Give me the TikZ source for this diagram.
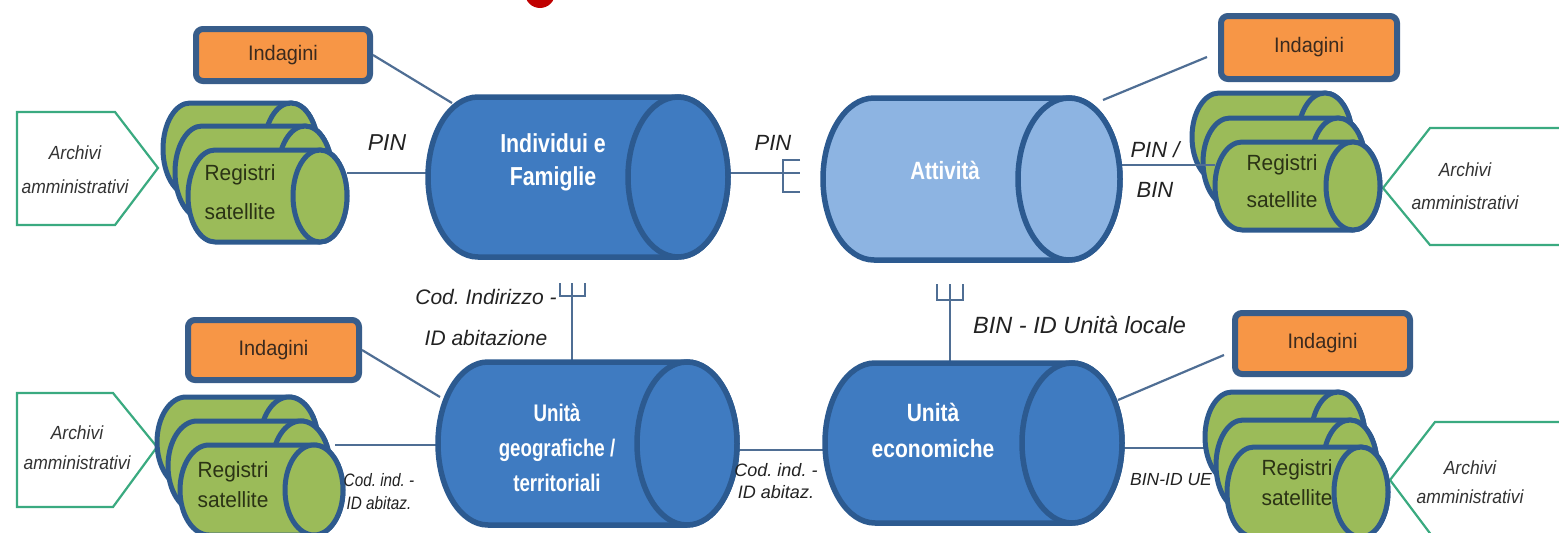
\documentclass[tikz,border=0pt]{standalone}
\usepackage{fontspec}
\setmainfont{Liberation Sans}
\newfontfamily\labf{Liberation Sans}
\newfontfamily\labnf[FakeStretch=0.85]{Liberation Sans}
\newfontfamily\arcf[FakeStretch=0.92]{Liberation Sans}
\newfontfamily\regf[FakeStretch=0.95]{Liberation Sans}
\newfontfamily\cylfa[FakeStretch=0.82]{Liberation Sans}
\newfontfamily\cylfb[FakeStretch=0.78]{Liberation Sans}
\newfontfamily\cylfc[FakeStretch=0.84]{Liberation Sans}
\definecolor{cylblue}{HTML}{3F7BC1}
\definecolor{cylline}{HTML}{2C5A90}
\definecolor{attfill}{HTML}{8DB4E2}
\definecolor{regfill}{HTML}{9BBB59}
\definecolor{regline}{HTML}{2E5A8E}
\definecolor{regtextc}{HTML}{2B3315}
\definecolor{indfill}{HTML}{F79646}
\definecolor{indline}{HTML}{385D8A}
\definecolor{indtextc}{HTML}{3B2A1E}
\definecolor{arcline}{HTML}{3AAA80}
\definecolor{arctextc}{HTML}{333333}
\definecolor{conline}{HTML}{4F6E94}
\definecolor{labtextc}{HTML}{222222}
\definecolor{redmark}{HTML}{C00000}
\newcommand\hcyl[6]{%
  \pgfmathsetmacro\cyL{#1}\pgfmathsetmacro\cyT{#2}%
  \pgfmathsetmacro\cyR{#3}\pgfmathsetmacro\cyB{#4}%
  \pgfmathsetmacro\cyX{#5}%
  \pgfmathsetmacro\cyM{(\cyT+\cyB)/2}\pgfmathsetmacro\cyY{(\cyB-\cyT)/2}%
  \draw[#6] ({\cyL+\cyX},\cyT) -- ({\cyR-\cyX},\cyT)
     arc[start angle=90,end angle=-90,x radius=\cyX pt,y radius=\cyY pt]
     -- ({\cyL+\cyX},\cyB)
     arc[start angle=270,end angle=90,x radius=\cyX pt,y radius=\cyY pt] -- cycle;
  \draw[#6] ({\cyR-\cyX},\cyM) ellipse[x radius=\cyX pt,y radius=\cyY pt];
}
\tikzset{
  cylmain/.style={draw=cylline, line width=5.5pt, fill=cylblue},
  cyllight/.style={draw=cylline, line width=5.5pt, fill=attfill},
  cylgreen/.style={draw=regline, line width=5pt, fill=regfill},
  indbox/.style={draw=indline, line width=6pt, fill=indfill, rounded corners=7pt,
    inner sep=0pt, text=indtextc, font=\regf\fontsize{21}{24}\selectfont},
  arcbox/.style={draw=arcline, line width=2.2pt, fill=white},
  con/.style={draw=conline, line width=2.2pt},
  cyltext/.style={text=white, align=center, inner sep=0pt},
  lab/.style={text=labtextc, align=center, inner sep=0pt},
  arctext/.style={text=arctextc, align=center, inner sep=0pt},
  regtext/.style={text=regtextc, align=center, inner sep=0pt}
}
\begin{document}
\frenchspacing
\begin{tikzpicture}[x=1pt,y=-1pt]
\useasboundingbox (0,0) rectangle (1559,533);
\clip (0,0) rectangle (1559,533);
\fill[white] (0,0) rectangle (1559,533);
% red mark at top
\fill[redmark] (540,-7) circle[radius=15pt];

% Archivi amministrativi
\draw[arcbox] (17,112) -- (115,112) -- (158,168) -- (115,225) -- (17,225) -- cycle;
\draw[arcbox] (1383,188) -- (1430,128) -- (1570,128) -- (1570,245) -- (1430,245) -- cycle;
\draw[arcbox] (17,393) -- (113,393) -- (157,447) -- (113,507) -- (17,507) -- cycle;
\draw[arcbox] (1390,480) -- (1435,422) -- (1570,422) -- (1570,540) -- (1435,540) -- cycle;
\node[arctext, font=\arcf\itshape\fontsize{19}{34}\selectfont] (arc-tl) at (75,170) {Archivi\\amministrativi};
\node[arctext, font=\arcf\itshape\fontsize{19}{33}\selectfont] (arc-tr) at (1465,186.5) {Archivi\\amministrativi};
\node[arctext, font=\arcf\itshape\fontsize{19}{30}\selectfont] (arc-bl) at (77,448) {Archivi\\amministrativi};
\node[arctext, font=\arcf\itshape\fontsize{19}{29}\selectfont] (arc-br) at (1470,482.5) {Archivi\\amministrativi};

% connection coordinates
\coordinate (if-w) at (428,173);
\coordinate (if-e) at (728,173);
\coordinate (if-nw) at (452,103);
\coordinate (att-ne) at (1103,100);
\coordinate (att-e) at (1120,165);
\coordinate (ug-n) at (572,362);
\coordinate (ug-w) at (438,445);
\coordinate (ug-nw) at (440,397);
\coordinate (ug-e) at (737,450);
\coordinate (ue-n) at (950,363);
\coordinate (ue-w) at (825,450);
\coordinate (ue-ne) at (1118,400);
\coordinate (ue-e) at (1122,448);
\coordinate (reg-tl-e) at (347,173);
\coordinate (reg-tr-w) at (1215,165);
\coordinate (reg-bl-e) at (335,445);
\coordinate (reg-br-w) at (1215,448);
\coordinate (ind-tr-end) at (1207,57);
\coordinate (ind-br-end) at (1224,355);
\coordinate (cf1) at (783,173);
\coordinate (cf1-tip) at (800,173);
\coordinate (cf2) at (572,296);
\coordinate (cf3) at (950,300);

% Indagini boxes
\node[indbox, minimum width=174pt, minimum height=52pt] (ind-tl) at (283,55) {Indagini};
\node[indbox, minimum width=176pt, minimum height=63pt] (ind-tr) at (1309,47.5) {Indagini};
\node[indbox, minimum width=171pt, minimum height=60pt] (ind-bl) at (273.5,350) {Indagini};
\node[indbox, minimum width=175pt, minimum height=61pt] (ind-br) at (1322.5,343.5) {Indagini};

% connectors drawn under shapes
\draw[con] (reg-tl-e) -- (if-w);
\draw[con] (if-e) -- (cf1-tip);
\draw[con] (800,160) -- (783,160) -- (783,192) -- (800,192);
\draw[con] (ind-tl.east) -- (if-nw);
\draw[con] (att-ne) -- (ind-tr-end);
\draw[con] (ug-n) -- (cf2);
\draw[con] (560,283) -- (560,296) -- (585,296) -- (585,283);
\draw[con] (cf2) -- (572,283);
\draw[con] (ue-n) -- (cf3);
\draw[con] (937,284) -- (937,300) -- (963,300) -- (963,284);
\draw[con] (cf3) -- (950,284);
\draw[con] (ind-bl.east) -- (ug-nw);
\draw[con] (ug-e) -- (ue-w);
\draw[con] (ue-ne) -- (ind-br-end);
\draw[con] (ue-e) -- (reg-br-w);

% Registri satellite stacks
\hcyl{163}{103}{318}{195}{27}{cylgreen}
\hcyl{175}{126}{332}{218}{27}{cylgreen}
\hcyl{188}{150}{347}{242}{27}{cylgreen}
\hcyl{1192}{93}{1352}{181}{27}{cylgreen}
\hcyl{1203}{118}{1365}{206}{27}{cylgreen}
\hcyl{1215}{142}{1380}{230}{27}{cylgreen}
\hcyl{157}{397}{318}{487}{29}{cylgreen}
\hcyl{168}{421}{330}{511}{29}{cylgreen}
\hcyl{180}{445}{343}{535}{29}{cylgreen}
\hcyl{1205}{392}{1365}{482}{27}{cylgreen}
\hcyl{1216}{420}{1377}{510}{27}{cylgreen}
\hcyl{1227}{447}{1388}{537}{27}{cylgreen}
\node[regtext, font=\regf\fontsize{22}{39}\selectfont] (reg-tl) at (240,192.5) {Registri\\satellite};
\node[regtext, font=\regf\fontsize{22}{37}\selectfont] (reg-tr) at (1282,181.5) {Registri\\satellite};
\node[regtext, font=\regf\fontsize{22}{30}\selectfont] (reg-bl) at (233,485) {Registri\\satellite};
\node[regtext, font=\regf\fontsize{22}{30}\selectfont] (reg-br) at (1297,483) {Registri\\satellite};

% connectors drawn over the stacks
\draw[con] (att-e) -- (reg-tr-w);
\draw[con] (reg-bl-e) -- (ug-w);

% main cylinders
\hcyl{428}{97}{728}{257}{50}{cylmain}
\hcyl{823}{98}{1120}{260}{51}{cyllight}
\hcyl{438}{362}{737}{525}{50}{cylmain}
\hcyl{825}{363}{1122}{523}{50}{cylmain}
\node[cyltext, font=\cylfa\bfseries\fontsize{26}{33}\selectfont] (if) at (553,162) {Individui e\\Famiglie};
\node[cyltext, font=\cylfa\bfseries\fontsize{25}{30}\selectfont] (att) at (945,170) {Attività};
\node[cyltext, font=\cylfb\bfseries\fontsize{24}{35}\selectfont] (ug) at (557,448) {Unità\\geografiche /\\territoriali};
\node[cyltext, font=\cylfc\bfseries\fontsize{25}{36}\selectfont] (ue) at (933,430) {Unità\\economiche};

% labels
\node[lab, font=\labf\itshape\fontsize{23}{28}\selectfont] (l-pin1) at (387,143) {PIN};
\node[lab, font=\labf\itshape\fontsize{22}{28}\selectfont] (l-pin2) at (773,143) {PIN};
\node[lab, font=\labf\itshape\fontsize{22}{40}\selectfont] (l-pinbin) at (1155,170) {PIN /\\BIN};
\node[lab, font=\labf\itshape\fontsize{21}{41}\selectfont] (l-codind) at (486,317.5) {Cod. Indirizzo -\\ID abitazione};
\node[lab, anchor=west, font=\labf\itshape\fontsize{23.5}{28}\selectfont] (l-binloc) at (973,325) {BIN - ID Unità locale};
\node[lab, font=\labnf\itshape\fontsize{18}{23}\selectfont] (l-codind2) at (379,491.5) {Cod. ind. -\\ID abitaz.};
\node[lab, font=\labf\itshape\fontsize{18}{22}\selectfont] (l-codind3) at (776,481) {Cod. ind. -\\ID abitaz.};
\node[lab, font=\labf\itshape\fontsize{17.5}{22}\selectfont] (l-binue) at (1171,480) {BIN-ID UE};
\end{tikzpicture}
\end{document}
